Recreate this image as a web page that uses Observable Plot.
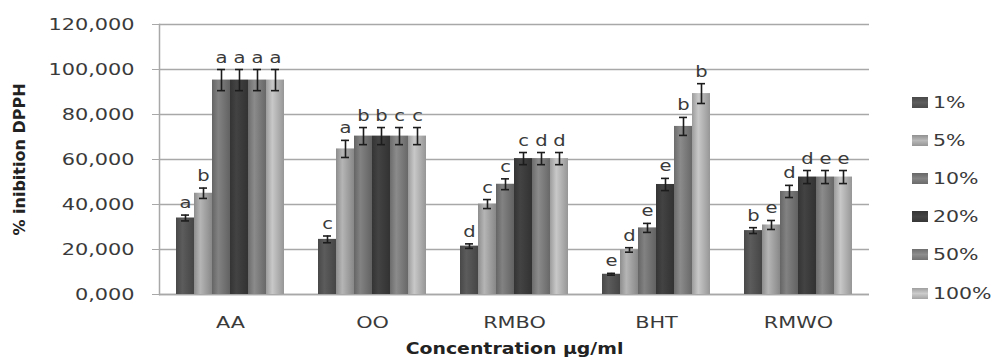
<!DOCTYPE html>
<html>
<head>
<meta charset="utf-8">
<script src="https://cdn.jsdelivr.net/npm/d3@7"></script>
<script src="https://cdn.jsdelivr.net/npm/@observablehq/plot@0.6"></script>
<style>
  html, body { margin: 0; padding: 0; background: #fff; }
  #wrap { position: relative; width: 991px; height: 358px; overflow: hidden; }
  #legend { position: absolute; left: 912px; top: 83px; font-family: "DejaVu Sans", sans-serif; font-size: 16px; color: #3a3a3a; }
  #legend .item { display: flex; align-items: center; height: 38.2px; }
  #legend .sw { width: 16px; height: 11px; margin-right: 5px; }
  #legend .lab { display: inline-block; transform: scaleX(1.28); transform-origin: left center; }
</style>
</head>
<body>
<div id="wrap"><div id="legend"></div></div>
<script>
const groups = ["AA", "OO", "RMBO", "BHT", "RMWO"];
const concentrations = ["1%", "5%", "10%", "20%", "50%", "100%"];
const yTicks = [0, 20, 40, 60, 80, 100, 120];

const meanAA   = [34.0, 45.0, 95.3, 95.3, 95.3, 95.3];
const errAA    = [1.3, 2.3, 4.7, 4.7, 4.7, 4.7];
const letterAA = ["a", "b", "a", "a", "a", "a"];

const meanOO   = [24.5, 64.7, 70.4, 70.4, 70.4, 70.4];
const errOO    = [1.5, 3.8, 3.8, 3.8, 3.8, 3.8];
const letterOO = ["c", "a", "b", "b", "c", "c"];

const meanRMBO   = [21.5, 40.2, 49.0, 60.4, 60.4, 60.4];
const errRMBO    = [1.0, 2.0, 2.4, 2.7, 2.7, 2.7];
const letterRMBO = ["d", "c", "c", "c", "d", "d"];

const meanBHT   = [9.0, 19.8, 29.6, 48.9, 74.7, 89.3];
const errBHT    = [0.4, 1.0, 2.0, 2.7, 4.0, 4.4];
const letterBHT = ["e", "d", "e", "e", "b", "b"];

const meanRMWO   = [28.4, 30.9, 45.8, 52.2, 52.2, 52.2];
const errRMWO    = [1.3, 2.0, 2.7, 2.9, 2.9, 2.9];
const letterRMWO = ["b", "e", "d", "d", "e", "e"];

const barColors = ["#545454", "#a6a6a6", "#777777", "#3d3d3d", "#7f7f7f", "#b7b7b7"];

const means = [meanAA, meanOO, meanRMBO, meanBHT, meanRMWO];
const errs = [errAA, errOO, errRMBO, errBHT, errRMWO];
const letters = [letterAA, letterOO, letterRMBO, letterBHT, letterRMWO];

const data = [];
groups.forEach((g, gi) => concentrations.forEach((c, ci) => {
  data.push({group: g, conc: c, mean: means[gi][ci], err: errs[gi][ci], letter: letters[gi][ci]});
}));

const fmt = d => d.toFixed(3).replace(".", ",");

const chart = Plot.plot({
  width: 991,
  height: 358,
  marginLeft: 158,
  marginRight: 121,
  marginTop: 24,
  marginBottom: 64,
  style: {fontFamily: "DejaVu Sans, sans-serif", fontSize: "16px", color: "#3a3a3a", background: "transparent"},
  fx: {domain: groups, padding: 0},
  x: {domain: concentrations, paddingInner: 0, paddingOuter: 0.75, axis: null},
  y: {domain: [0, 120]},
  color: {domain: concentrations, range: concentrations.map((c, i) => `url(#grad${i})`)},
  marks: [
    Plot.gridY(yTicks, {stroke: "#a8a8a8", strokeOpacity: 1, strokeWidth: 1.5}),
    Plot.axisY({ticks: yTicks, tickFormat: fmt, tickSize: 7, tickPadding: 18, stroke: "#a8a8a8",
      label: "% inibition DPPH", labelArrow: "none", labelAnchor: "center", labelOffset: 146}),
    Plot.axisFx({anchor: "bottom", tickSize: 0, tickPadding: 22, label: "Concentration µg/ml", labelArrow: "none",
      labelAnchor: "center", labelOffset: 59}),
    Plot.frame({anchor: "left", facet: "super", stroke: "#a8a8a8", strokeWidth: 1.5}),
    Plot.ruleY([0], {stroke: "#a8a8a8", strokeWidth: 1.5}),
    Plot.barY(data, {fx: "group", x: "conc", y: "mean", fill: "conc"}),
    Plot.ruleX(data, {fx: "group", x: "conc", y1: d => d.mean - d.err, y2: d => d.mean + d.err, stroke: "#1c1c1c", strokeWidth: 1.6}),
    Plot.tickY(data, {fx: "group", x: "conc", y: d => d.mean - d.err, insetLeft: 5, insetRight: 5, stroke: "#1c1c1c", strokeWidth: 1.6}),
    Plot.tickY(data, {fx: "group", x: "conc", y: d => d.mean + d.err, insetLeft: 5, insetRight: 5, stroke: "#1c1c1c", strokeWidth: 1.6}),
    Plot.text(data, {fx: "group", x: "conc", y: d => d.mean + d.err, text: "letter", lineAnchor: "bottom", dy: -7,
      fontSize: 15, fill: "#3a3a3a"})
  ]
});

document.getElementById("wrap").prepend(chart);
const svg = d3.select(chart);

// bar gradients
const defs = svg.insert("defs", ":first-child");
barColors.forEach((col, i) => {
  const lg = defs.append("linearGradient").attr("id", `grad${i}`).attr("x1", 0).attr("x2", 1).attr("y1", 0).attr("y2", 0);
  lg.append("stop").attr("offset", "0").attr("stop-color", d3.color(col).darker(0.45));
  lg.append("stop").attr("offset", "0.35").attr("stop-color", d3.color(col).brighter(0.25));
  lg.append("stop").attr("offset", "1").attr("stop-color", d3.color(col).darker(0.55));
});

// bold axis titles
svg.selectAll('[aria-label="y-axis label"] text, [aria-label="fx-axis label"] text')
  .attr("font-weight", "bold").attr("fill", "#222").attr("font-size", 16);

// horizontal stretch of the reference typography
chart.querySelectorAll("text").forEach(t => {
  const p = t.parentNode.getAttribute("aria-label") || "";
  if (p === "y-axis label") return;
  let f = 1.3;
  if (p === "fx-axis tick label") f = 1.4;
  if (p === "fx-axis label") f = 1.18;
  const len = t.getComputedTextLength();
  if (len > 0) {
    t.setAttribute("textLength", (len * f).toFixed(1));
    t.setAttribute("lengthAdjust", "spacingAndGlyphs");
  }
});

// legend
const legend = d3.select("#legend");
concentrations.forEach((c, i) => {
  const it = legend.append("div").attr("class", "item");
  it.append("div").attr("class", "sw")
    .style("background", `linear-gradient(180deg, ${d3.color(barColors[i]).darker(0.4)}, ${d3.color(barColors[i]).brighter(0.3)} 50%, ${d3.color(barColors[i]).darker(0.3)})`);
  it.append("span").attr("class", "lab").text(c);
});
</script>
</body>
</html>
